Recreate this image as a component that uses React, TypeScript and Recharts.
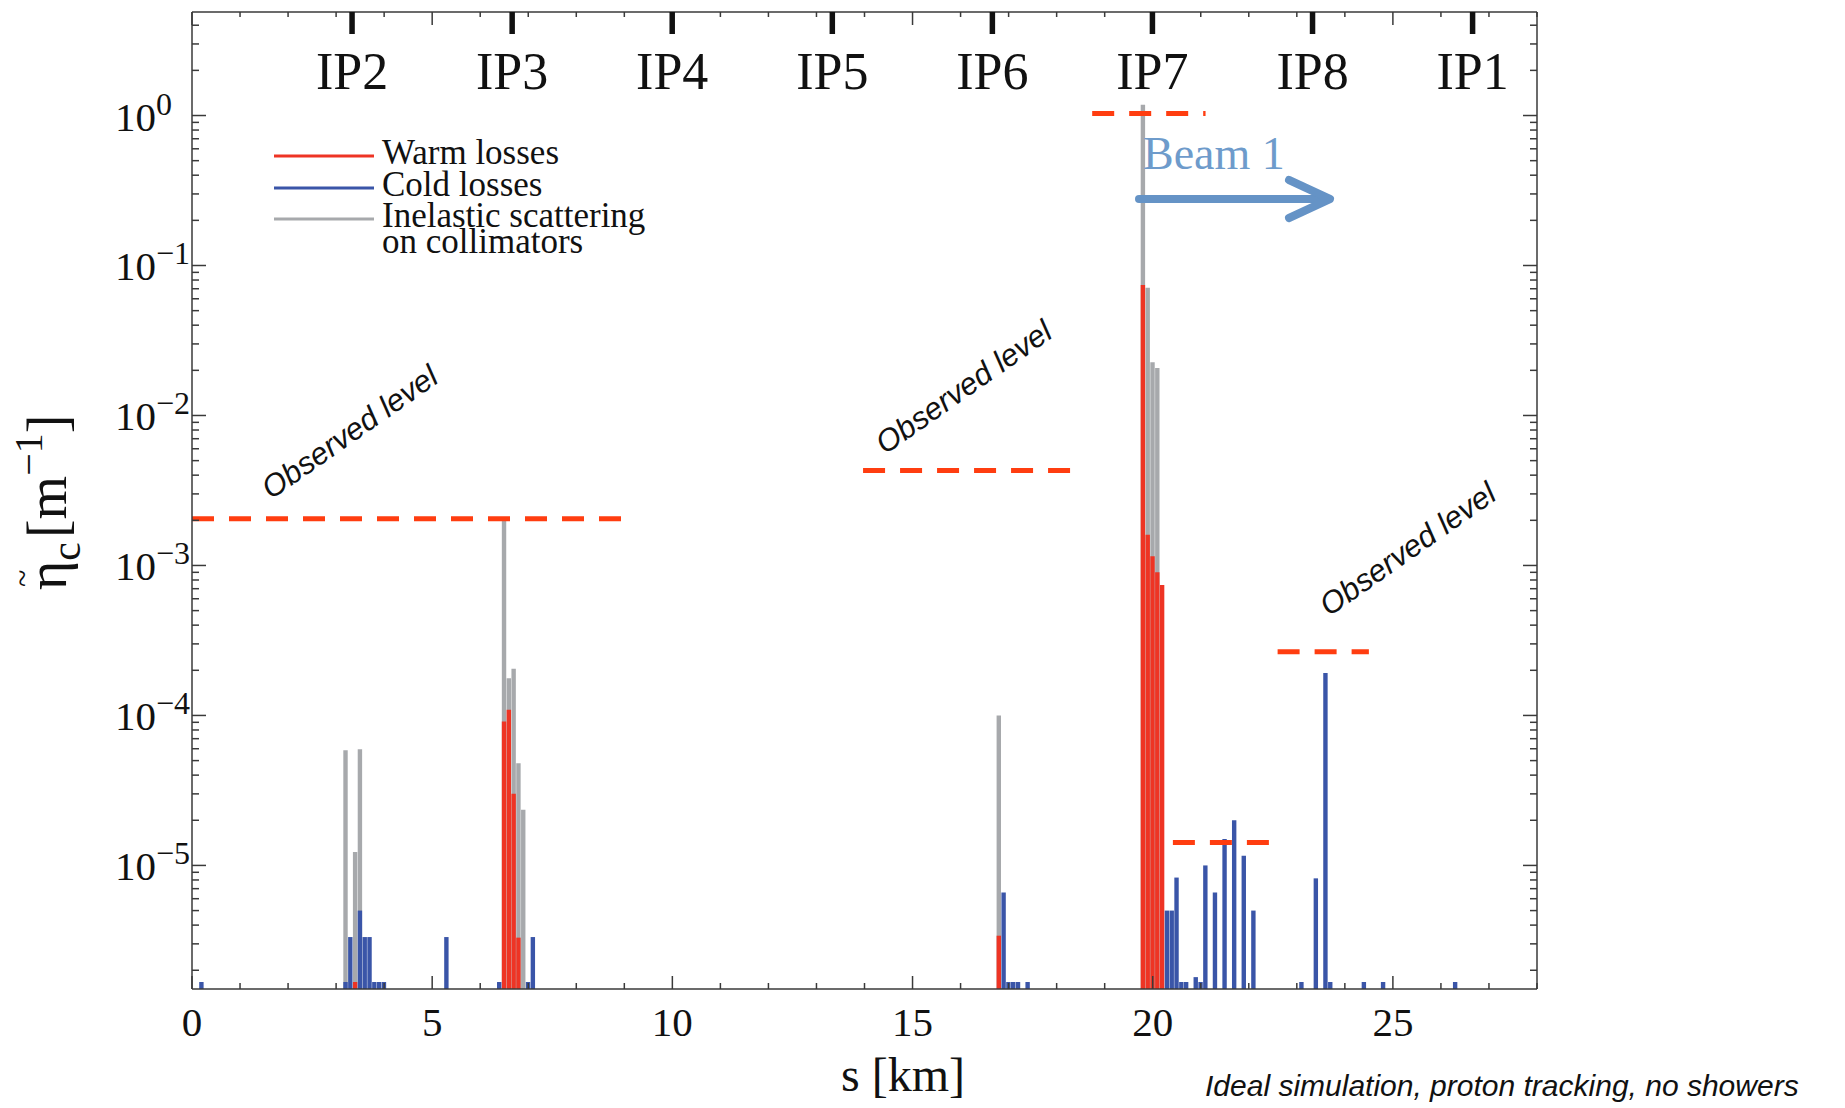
import { ComposedChart, Bar, XAxis, YAxis, ReferenceLine } from 'recharts';

const W = 1845;
const H = 1108;
// axes are 1px thick/wide, so the plot spans x 192..1537, y 12..989
const MARGIN = { top: 11, right: 307, bottom: 118, left: 191 };

const SERIF = '"Liberation Serif", "Times New Roman", serif';
const SANS = '"Liberation Sans", Arial, sans-serif';

const RED = '#EE3424';
const BLUE = '#3A55A8';
const GRAY = '#A7A9AC';
const DASH = '#FF3D10';
const AXIS = '#3a3a3a';

// [s in km, loss density]
const WARM: [number, number][] = [
  [3.4, 1.67e-6],
  [6.5, 9.1e-5], [6.6, 1.09e-4], [6.7, 3.0e-5], [6.8, 3.3e-6],
  [16.8, 3.4e-6],
  [19.8, 7.4e-2], [19.9, 1.6e-3], [20.0, 1.15e-3], [20.1, 9.0e-4], [20.2, 7.4e-4],
];

const COLD: [number, number][] = [
  [0.2, 1.67e-6],
  [3.2, 1.67e-6], [3.3, 3.33e-6], [3.5, 5.0e-6], [3.6, 3.33e-6], [3.7, 3.33e-6],
  [3.8, 1.67e-6], [3.9, 1.67e-6], [4.0, 1.67e-6],
  [5.3, 3.33e-6],
  [6.4, 1.67e-6], [7.0, 1.67e-6], [7.1, 3.33e-6],
  [16.9, 6.6e-6], [17.0, 1.67e-6], [17.1, 1.67e-6], [17.2, 1.67e-6], [17.4, 1.67e-6],
  [20.3, 5.0e-6], [20.4, 5.0e-6], [20.5, 8.3e-6], [20.6, 1.67e-6], [20.7, 1.67e-6],
  [20.9, 1.8e-6], [21.0, 1.67e-6], [21.1, 1.0e-5], [21.3, 6.6e-6], [21.5, 1.5e-5],
  [21.7, 2.0e-5], [21.9, 1.16e-5], [22.1, 5.0e-6],
  [23.1, 1.67e-6], [23.4, 8.2e-6], [23.6, 1.92e-4], [23.7, 1.67e-6],
  [24.4, 1.67e-6], [24.8, 1.67e-6], [26.3, 1.67e-6],
];

const INELASTIC: [number, number][] = [
  [3.2, 5.85e-5], [3.4, 1.23e-5], [3.5, 5.95e-5],
  [6.5, 2.1e-3], [6.6, 1.77e-4], [6.7, 2.05e-4], [6.8, 4.8e-5], [6.9, 2.35e-5],
  [16.8, 1.0e-4],
  [19.8, 1.18], [19.9, 7.1e-2], [20.0, 2.26e-2], [20.1, 2.07e-2],
];

// observed loss levels (dashed): from s, to s, level
const OBSERVED: [number, number, number][] = [
  [0, 8.94, 2.05e-3],
  [13.97, 18.3, 4.3e-3],
  [18.74, 21.1, 1.03],
  [20.42, 22.42, 1.42e-5],
  [22.6, 24.5, 2.66e-4],
];

const IP_NAMES = ['IP2', 'IP3', 'IP4', 'IP5', 'IP6', 'IP7', 'IP8', 'IP1'];
const IP_POS = [3.332, 6.665, 9.997, 13.33, 16.662, 19.994, 23.327, 26.659];

const KM_TICKS = Array.from({ length: 29 }, (_, i) => i);
const X_LABELS = [0, 5, 10, 15, 20, 25];

const DECADES = [1e-5, 1e-4, 1e-3, 1e-2, 1e-1, 1];
const EXP_LABELS = ['\u22125', '\u22124', '\u22123', '\u22122', '\u22121', '0'];
const Y_MIN = 1.5e-6;
const Y_MAX = 4.9;
const Y_TICKS = [1e-6, ...DECADES]
  .flatMap((d) => [1, 2, 3, 4, 5, 6, 7, 8, 9].map((m) => (m === 1 ? d : m * d)))
  .filter((v) => v >= Y_MIN && v <= Y_MAX);

const allS = Array.from(new Set([...WARM, ...COLD, ...INELASTIC].map((d) => d[0]))).sort((a, b) => a - b);
const rows = allS.map((s) => {
  const r: Record<string, number> = { s };
  const w = WARM.find((d) => d[0] === s);
  const c = COLD.find((d) => d[0] === s);
  const g = INELASTIC.find((d) => d[0] === s);
  if (w) r.warm = w[1];
  if (c) r.cold = c[1];
  if (g) r.inel = g[1];
  return r;
});

function BottomTick(props: any) {
  const { x, y, payload } = props;
  const v = payload.value;
  const major = v % 5 === 0;
  return (
    <g>
      <line x1={x} x2={x} y1={y} y2={y - (major ? 13 : 6)} stroke={AXIS} strokeWidth={1.5} />
      {X_LABELS.includes(v) && (
        <text x={x} y={y + 47} textAnchor="middle" fontSize={41} fontFamily={SERIF} fill="#111">
          {v}
        </text>
      )}
    </g>
  );
}

function TopTick(props: any) {
  const { x, y, payload } = props;
  const v = payload.value;
  const ip = IP_POS.indexOf(v);
  if (ip >= 0) {
    return (
      <g>
        <line x1={x} x2={x} y1={y} y2={y + 22} stroke="#111" strokeWidth={5.5} />
        <text x={x} y={y + 77} textAnchor="middle" fontSize={52} fontFamily={SERIF} fill="#111">
          {IP_NAMES[ip]}
        </text>
      </g>
    );
  }
  const major = v % 5 === 0;
  return <line x1={x} x2={x} y1={y} y2={y + (major ? 13 : 5)} stroke={AXIS} strokeWidth={1.5} />;
}

function LeftTick(props: any) {
  const { x, y, payload } = props;
  const d = DECADES.indexOf(payload.value);
  return (
    <g>
      <line x1={x} x2={x + (d >= 0 ? 14 : 7)} y1={y} y2={y} stroke={AXIS} strokeWidth={1.5} />
      {d >= 0 && (
        <text x={x - 77} y={y + 15} fontSize={41} fontFamily={SERIF} fill="#111">
          10
          <tspan dy={-16} fontSize={32}>
            {EXP_LABELS[d]}
          </tspan>
        </text>
      )}
    </g>
  );
}

function RightTick(props: any) {
  const { x, y, payload } = props;
  const major = DECADES.includes(payload.value);
  return <line x1={x} x2={x - (major ? 14 : 7)} y1={y} y2={y} stroke={AXIS} strokeWidth={1.5} />;
}

const LEGEND = [
  { color: RED, lines: ['Warm losses'], y: 156 },
  { color: BLUE, lines: ['Cold losses'], y: 188 },
  { color: GRAY, lines: ['Inelastic scattering', 'on collimators'], y: 219 },
];

const OBS_TEXT: [number, number][] = [
  [351, 434],
  [965, 389],
  [1409, 551],
];

export default function App() {
  const axisLine = { stroke: AXIS, strokeWidth: 1.5 };
  return (
    <div style={{ position: 'absolute', left: 0, top: 0, width: W, height: H, background: '#fff' }}>
      <ComposedChart width={W} height={H} data={rows} margin={MARGIN}>
        <XAxis
          xAxisId="bottom"
          dataKey="s"
          type="number"
          domain={[0, 28]}
          allowDataOverflow
          ticks={KM_TICKS}
          interval={0}
          height={1}
          tickSize={0}
          tickMargin={0}
          tickLine={false}
          axisLine={axisLine}
          tick={BottomTick}
        />
        <XAxis xAxisId="g" dataKey="s" type="number" domain={[0, 28]} allowDataOverflow height={0} hide />
        <XAxis xAxisId="r" dataKey="s" type="number" domain={[0, 28]} allowDataOverflow height={0} hide />
        <XAxis xAxisId="b" dataKey="s" type="number" domain={[0, 28]} allowDataOverflow height={0} hide />
        <XAxis
          xAxisId="top"
          orientation="top"
          dataKey="s"
          type="number"
          domain={[0, 28]}
          allowDataOverflow
          ticks={[...KM_TICKS, ...IP_POS]}
          interval={0}
          height={1}
          tickSize={0}
          tickMargin={0}
          tickLine={false}
          axisLine={axisLine}
          tick={TopTick}
        />
        <YAxis
          yAxisId="left"
          type="number"
          scale="log"
          domain={[Y_MIN, Y_MAX]}
          allowDataOverflow
          ticks={Y_TICKS}
          interval={0}
          width={1}
          tickSize={0}
          tickMargin={0}
          tickLine={false}
          axisLine={axisLine}
          tick={LeftTick}
        />
        <YAxis
          yAxisId="right"
          orientation="right"
          type="number"
          scale="log"
          domain={[Y_MIN, Y_MAX]}
          allowDataOverflow
          ticks={Y_TICKS}
          interval={0}
          width={1}
          tickSize={0}
          tickMargin={0}
          tickLine={false}
          axisLine={axisLine}
          tick={RightTick}
        />
        <Bar xAxisId="g" yAxisId="left" dataKey="inel" fill={GRAY} barSize={4.4} isAnimationActive={false} />
        <Bar xAxisId="r" yAxisId="left" dataKey="warm" fill={RED} barSize={4.4} isAnimationActive={false} />
        <Bar xAxisId="b" yAxisId="left" dataKey="cold" fill={BLUE} barSize={4.4} isAnimationActive={false} />
        {OBSERVED.map(([from, to, level], i) => (
          <ReferenceLine
            key={i}
            xAxisId="bottom"
            yAxisId="left"
            segment={[
              { x: from, y: level },
              { x: to, y: level },
            ]}
            stroke={DASH}
            strokeWidth={5}
            strokeDasharray="22 15"
            ifOverflow="visible"
          />
        ))}
      </ComposedChart>

      <svg width={W} height={H} style={{ position: 'absolute', left: 0, top: 0, pointerEvents: 'none' }}>
        {LEGEND.map((l) => (
          <g key={l.lines[0]}>
            <line x1={274} x2={374} y1={l.y} y2={l.y} stroke={l.color} strokeWidth={3} />
            {l.lines.map((t, j) => (
              <text key={t} x={382} y={l.y + 8 + j * 26} fontSize={35} fontFamily={SERIF} fill="#111">
                {t}
              </text>
            ))}
          </g>
        ))}

        <text x={1143} y={169} fontSize={46} fontFamily={SERIF} fill="#6E9BCB">
          Beam 1
        </text>
        <line x1={1139} x2={1324} y1={199} y2={199} stroke="#6593C6" strokeWidth={8} strokeLinecap="round" />
        <polyline
          points="1289,180 1330,199 1289,218"
          fill="none"
          stroke="#6593C6"
          strokeWidth={8}
          strokeLinecap="round"
          strokeLinejoin="round"
        />

        {OBS_TEXT.map(([cx, cy], i) => (
          <text
            key={i}
            x={cx}
            y={cy}
            transform={`rotate(-35 ${cx} ${cy})`}
            textAnchor="middle"
            dominantBaseline="middle"
            fontSize={31}
            fontStyle="italic"
            fontFamily={SANS}
            fill="#111"
          >
            Observed level
          </text>
        ))}

        <g transform="translate(66 590) rotate(-90)">
          <text x={0} y={0} fontSize={56} fontFamily={SERIF} fill="#111">
            η
            <tspan fontSize={42} dy={14}>
              c
            </tspan>
            <tspan dy={-14} dx={4}>
              [m
            </tspan>
            <tspan fontSize={40} dy={-24}>
              −1
            </tspan>
            <tspan dy={24}>]</tspan>
          </text>
          <text x={3} y={-33} fontSize={32} fontFamily={SERIF} fill="#111">
            ~
          </text>
        </g>

        <text x={903} y={1091} textAnchor="middle" fontSize={48} fontFamily={SERIF} fill="#111">
          s [km]
        </text>

        <text x={1205} y={1096} fontSize={30} fontStyle="italic" fontFamily={SANS} fill="#111">
          Ideal simulation, proton tracking, no showers
        </text>
      </svg>
    </div>
  );
}
